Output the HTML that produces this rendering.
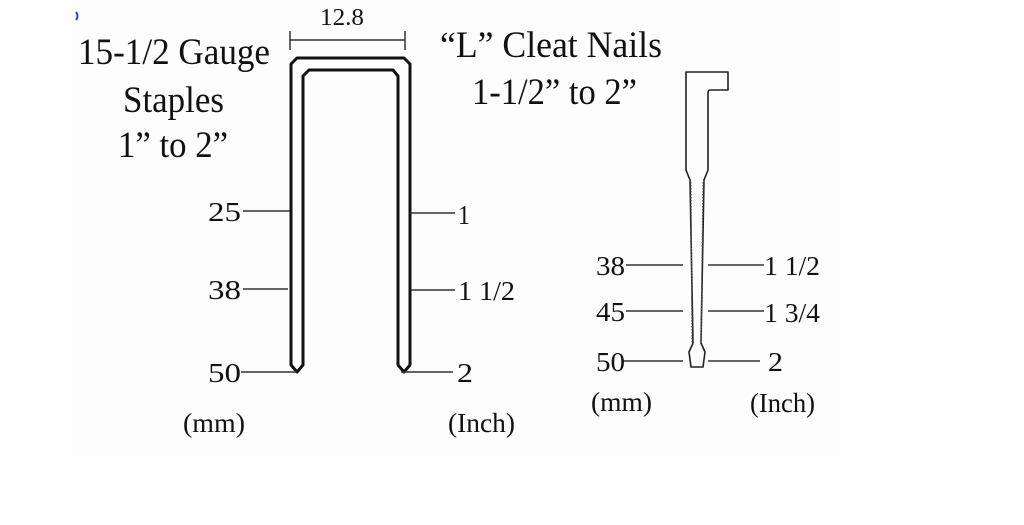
<!DOCTYPE html>
<html><head><meta charset="utf-8"><style>
html,body{margin:0;padding:0;background:#fff;width:1024px;height:525px;overflow:hidden}
svg{display:block}
text{font-family:"Liberation Serif",serif;fill:#111}
</style></head><body>
<svg width="1024" height="525" viewBox="0 0 1024 525">
<rect x="0" y="0" width="1024" height="525" fill="#fff"/>
<rect x="70" y="0" width="770" height="455" fill="#fdfdfd"/>
<path d="M76 12 q3 4 0 8" stroke="#2050c0" stroke-width="2" fill="none"/>
<!-- titles -->
<text x="78" y="64" font-size="37" textLength="192" lengthAdjust="spacingAndGlyphs">15-1/2 Gauge</text>
<text x="123" y="112" font-size="37" textLength="101" lengthAdjust="spacingAndGlyphs">Staples</text>
<text x="118" y="157" font-size="37" textLength="110" lengthAdjust="spacingAndGlyphs">1” to 2”</text>
<text x="440" y="57" font-size="37" textLength="222" lengthAdjust="spacingAndGlyphs">“L” Cleat Nails</text>
<text x="472" y="104" font-size="37" textLength="165" lengthAdjust="spacingAndGlyphs">1-1/2” to 2”</text>
<!-- dimension 12.8 -->
<text x="320" y="25" font-size="24" textLength="44" lengthAdjust="spacingAndGlyphs">12.8</text>
<g stroke="#333" stroke-width="1.5" fill="none">
<line x1="290" y1="40" x2="405" y2="40"/>
<line x1="290" y1="31" x2="290" y2="50"/>
<line x1="405" y1="31" x2="405" y2="50"/>
</g>
<!-- staple -->
<g stroke="#111" stroke-width="3" fill="none" stroke-linejoin="round">
<path d="M291 365 L291 64 L297 58 L404 58 L410 64 L410 365 L404 372 L398 365 L398 76 L393 70 L309 70 L303 76 L303 365 L297 372 Z"/>
</g>
<!-- staple ticks -->
<g stroke="#333" stroke-width="1.5">
<line x1="243" y1="211" x2="290" y2="211"/>
<line x1="243" y1="289" x2="288" y2="289"/>
<line x1="241" y1="372" x2="297" y2="372"/>
<line x1="410" y1="213" x2="455" y2="213"/>
<line x1="411" y1="290" x2="455" y2="290"/>
<line x1="401" y1="372" x2="453" y2="372"/>
</g>
<g font-size="27">
<text x="208" y="221" textLength="33" lengthAdjust="spacingAndGlyphs">25</text>
<text x="208" y="299" textLength="33" lengthAdjust="spacingAndGlyphs">38</text>
<text x="208" y="382" textLength="33" lengthAdjust="spacingAndGlyphs">50</text>
<text x="458" y="224" textLength="12" lengthAdjust="spacingAndGlyphs">1</text>
<text x="458" y="300" textLength="57" lengthAdjust="spacingAndGlyphs">1 1/2</text>
<text x="457" y="382" textLength="16" lengthAdjust="spacingAndGlyphs">2</text>
<text x="183" y="432" textLength="62" lengthAdjust="spacingAndGlyphs">(mm)</text>
<text x="448" y="432" textLength="67" lengthAdjust="spacingAndGlyphs">(Inch)</text>
</g>
<!-- nail -->
<g stroke="#222" stroke-width="1.6" fill="none" stroke-linejoin="round">
<path d="M686 170 L686 72 L728 72 L728 90 L710 90 Q708 90 708 93 L708 170 L704 180 L701 343 L705 352 L703 367 L691 367 L689 352 L693 343 L690 180 Z"/>
</g>
<g stroke="#555" stroke-width="1.2" stroke-dasharray="1.5 1.5">
<line x1="691" y1="182" x2="692" y2="343"/>
<line x1="703" y1="182" x2="701" y2="343"/>
</g>
<g stroke="#333" stroke-width="1.5">
<line x1="626" y1="265" x2="683" y2="265"/>
<line x1="626" y1="311" x2="683" y2="311"/>
<line x1="622" y1="361" x2="683" y2="361"/>
<line x1="708" y1="265" x2="764" y2="265"/>
<line x1="708" y1="311" x2="764" y2="311"/>
<line x1="708" y1="361" x2="760" y2="361"/>
</g>
<g font-size="27">
<text x="596" y="275" textLength="29" lengthAdjust="spacingAndGlyphs">38</text>
<text x="596" y="321" textLength="29" lengthAdjust="spacingAndGlyphs">45</text>
<text x="596" y="371" textLength="29" lengthAdjust="spacingAndGlyphs">50</text>
<text x="764" y="275" textLength="56" lengthAdjust="spacingAndGlyphs">1 1/2</text>
<text x="764" y="322" textLength="56" lengthAdjust="spacingAndGlyphs">1 3/4</text>
<text x="768" y="371" textLength="15" lengthAdjust="spacingAndGlyphs">2</text>
<text x="591" y="411" textLength="61" lengthAdjust="spacingAndGlyphs">(mm)</text>
<text x="750" y="412" textLength="65" lengthAdjust="spacingAndGlyphs">(Inch)</text>
</g>
</svg>
</body></html>
